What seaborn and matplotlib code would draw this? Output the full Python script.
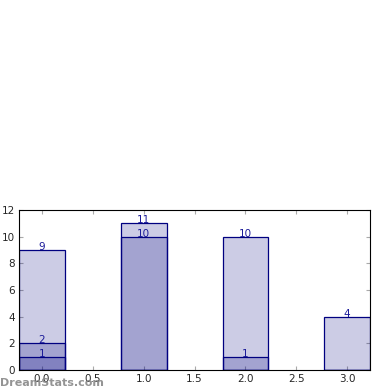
import matplotlib
matplotlib.use("Agg")
import matplotlib.pyplot as plt
import seaborn as sns
import pandas as pd
import numpy as np

# three overlapping series at x = 0..3
positions = [0, 1, 2, 3]
series_a = [9, 11, 10, 4]
series_b = [2, 10, 1, 0]
series_c = [1, 0, 0, 0]

sns.set_style("ticks")
plt.rcParams['font.family'] = ['DejaVu Sans']

fig = plt.figure(figsize=(3.9, 3.9), dpi=100)
ax = fig.add_axes([0.049, 0.051, 0.9, 0.411])

for vals in [series_a, series_b, series_c]:
    df = pd.DataFrame({'x': positions, 'y': vals})
    sns.barplot(data=df, x='x', y='y', native_scale=True, width=0.45,
                errorbar=None, ax=ax)
    for xv, yv in zip(positions, vals):
        if yv > 0:
            ax.text(xv, yv, str(yv), ha='center', va='baseline',
                    fontsize=7.5, color='#1a1a99')

for p in ax.patches:
    p.set_facecolor((0, 0, 0.5, 0.2))
    p.set_edgecolor('navy')
    p.set_linewidth(0.9)

ax.set_xlim(-0.225, 3.225)
ax.set_ylim(0, 12)
ax.set_xticks(np.arange(0, 3.01, 0.5))
ax.set_xticklabels(['0.0', '0.5', '1.0', '1.5', '2.0', '2.5', '3.0'])
ax.set_yticks(range(0, 13, 2))
ax.set_xlabel('')
ax.set_ylabel('')
ax.tick_params(direction='in', top=True, right=True, length=3,
               labelsize=7.5, color='#aaaaaa', pad=3)
for s in ax.spines.values():
    s.set_color('black')
    s.set_linewidth(0.8)

fig.text(0.0, 0.01, 'DreamStats.com', fontsize=8, color='#888888',
         fontweight='bold', alpha=0.9)

fig.savefig('out.png', dpi=100)
